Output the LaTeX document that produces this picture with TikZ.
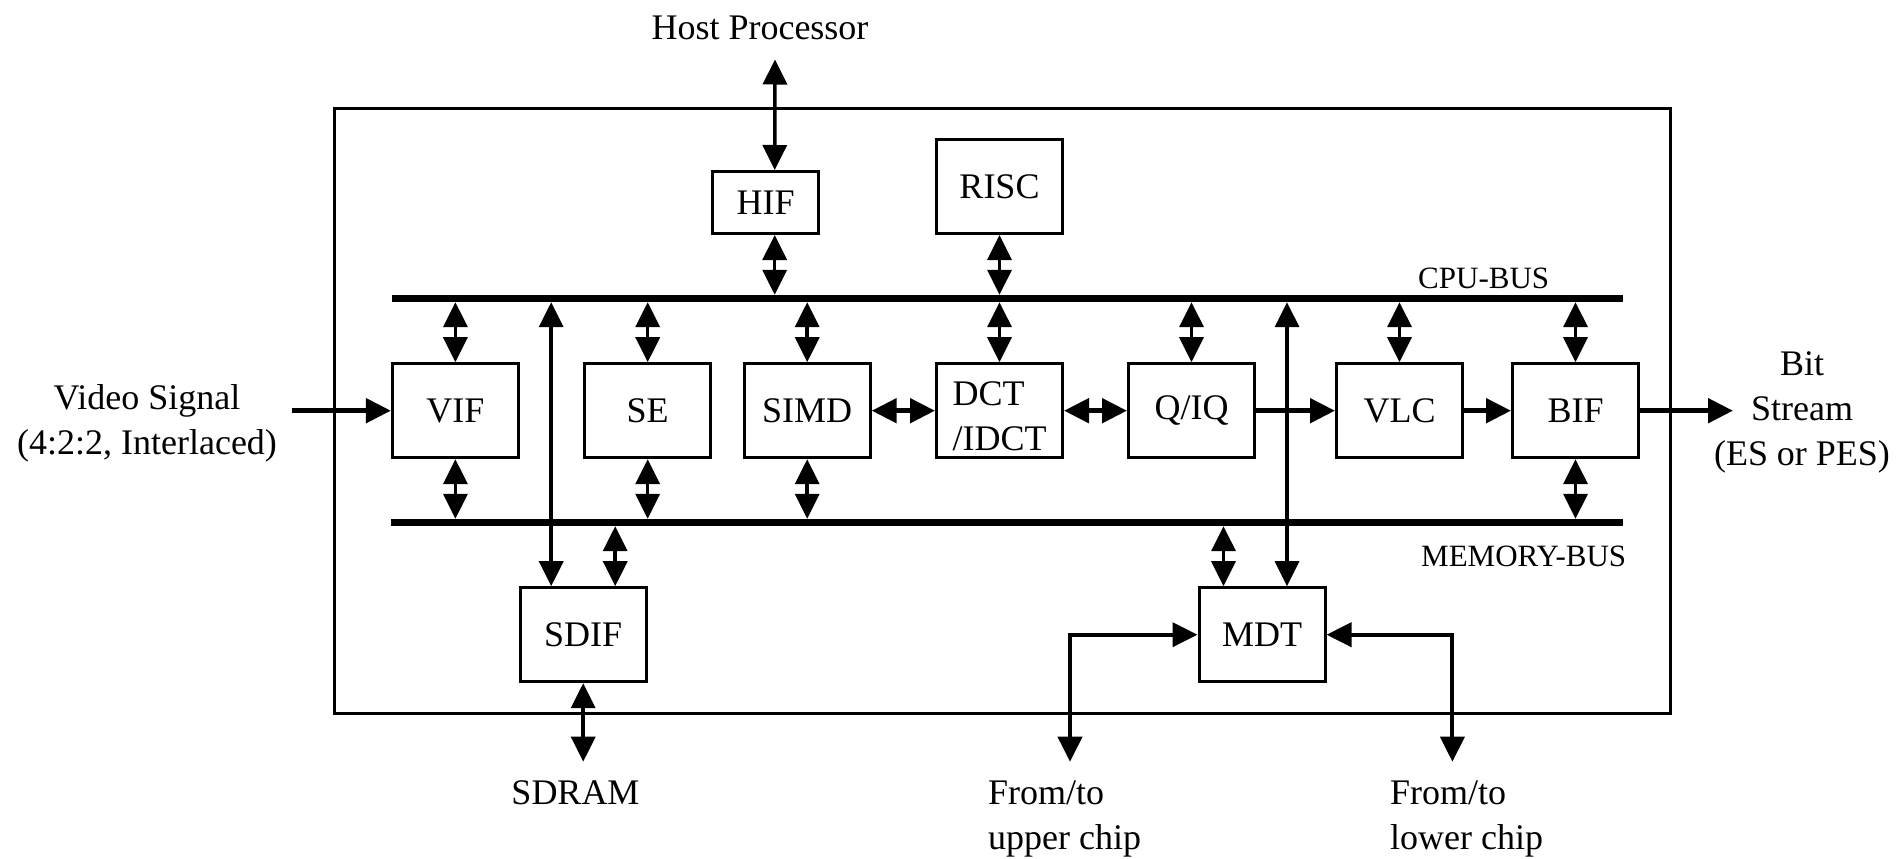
\documentclass[tikz,border=0pt]{standalone}
\usepackage{fontspec}
\setmainfont{Liberation Serif}
\usetikzlibrary{arrows.meta}

\begin{document}
\begin{tikzpicture}[x=1pt,y=-1pt,
  >={Triangle[length=25pt,width=24pt]},
  blk/.style={draw, line width=3pt, minimum width=126pt, minimum height=94pt,
              inner sep=0pt, font=\fontsize{36}{45}\selectfont},
  bus/.style={fill=black, minimum height=7pt, inner sep=0pt},
  lbl/.style={font=\fontsize{36}{45}\selectfont, inner sep=0pt, align=center},
  buslbl/.style={font=\fontsize{31}{38}\selectfont, inner sep=0pt, anchor=west},
  link/.style={line width=3.5pt, <->},
  flow/.style={line width=5pt, ->},
  ]
\useasboundingbox (0,0) rectangle (1898,859);

% chip outline
\node[draw, line width=3pt, minimum width=1336pt, minimum height=605.5pt, inner sep=0pt]
  (chip) at (1002.5,410.75) {};

% buses
\node[bus, minimum width=1231pt] (cpubus) at (1007.5,298.5) {};
\node[bus, minimum width=1232pt] (membus) at (1007,522.5) {};
\node[buslbl] (cpulbl) at (1418,278) {CPU-BUS};
\node[buslbl] (memlbl) at (1421,556.7) {MEMORY-BUS};

% functional blocks
\node[blk, minimum width=106pt, minimum height=62pt] (hif) at (765.7,202.5) {HIF};
\node[blk] (risc) at (999.5,186.5) {RISC};
\node[blk] (vif)  at (455.4,410.7) {VIF};
\node[blk] (se)   at (647.7,410.7) {SE};
\node[blk] (simd) at (807.2,410.7) {SIMD};
\node[blk] (dct) at (999.5,410.7)
  {\raisebox{-8pt}[\height][\depth]{\begin{tabular}{@{}l@{}}DCT\\/IDCT\end{tabular}}};
\node[blk] (qiq)  at (1191.5,410.7) {Q/IQ};
\node[blk] (vlc)  at (1399.5,410.7) {VLC};
\node[blk] (bif)  at (1575.5,410.7) {BIF};
\node[blk] (sdif) at (583.2,634.7) {SDIF};
\node[blk] (mdt)  at (1262,634.7) {MDT};

% external labels
\node[lbl] (host) at (760,28) {Host Processor};
\node[lbl] (video) at (147,423) {Video Signal\\(4:2:2, Interlaced)};
\node[lbl] (bits) at (1802,412) {Bit\\Stream\\(ES or PES)};
\node[lbl] (sdram) at (575.5,793) {SDRAM};
\node[lbl, align=left, anchor=west] (upper) at (988,819) {From/to\\upper chip};
\node[lbl, align=left, anchor=west] (lower) at (1390,819) {From/to\\lower chip};

% free ends of the external connectors
\coordinate (hosttip) at (775,59.5);
\coordinate (vin) at (291.6,410.7);
\coordinate (bout) at (1733,410.7);
\coordinate (sdtip) at (583.2,761.7);
\coordinate (uptip) at (1070,761.7);
\coordinate (lotip) at (1452.4,761.7);

% host interface
\coordinate (ht) at ([xshift=9pt]hif.north);
\coordinate (hb) at ([xshift=9pt]hif.south);
\draw[link] (ht) -- (hosttip);
\draw[link] (hb) -- (hb |- cpubus.north);
\draw[link] (risc.south) -- (risc.south |- cpubus.north);

% CPU bus taps
\foreach \b in {vif,se,simd,dct,qiq,vlc,bif}
  \draw[link] (\b.north) -- (\b.north |- cpubus.south);

% memory bus taps
\foreach \b in {vif,se,simd,bif}
  \draw[link] (\b.south) -- (\b.south |- membus.north);

% SDRAM interface
\coordinate (sa) at ([xshift=-32pt]sdif.north);
\coordinate (sb) at ([xshift=32pt]sdif.north);
\draw[link] (sa) -- (sa |- cpubus.south);
\draw[link] (sb) -- (sb |- membus.south);
\draw[link] (sdif.south) -- (sdtip);

% multi-chip data transfer
\coordinate (ma) at ([xshift=-38.5pt]mdt.north);
\coordinate (mb) at ([xshift=25pt]mdt.north);
\draw[link] (ma) -- (ma |- membus.south);
\draw[link] (mb) -- (mb |- cpubus.south);
\draw[link, line width=4pt] (uptip) |- (mdt.west);
\draw[link, line width=4pt] (lotip) |- (mdt.east);

% data path
\draw[flow] (vin) -- (vif.west);
\draw[flow, <->] (simd.east) -- (dct.west);
\draw[flow, <->] (dct.east) -- (qiq.west);
\draw[flow] (qiq.east) -- (vlc.west);
\draw[flow] (vlc.east) -- (bif.west);
\draw[flow] (bif.east) -- (bout);
\end{tikzpicture}
\end{document}
